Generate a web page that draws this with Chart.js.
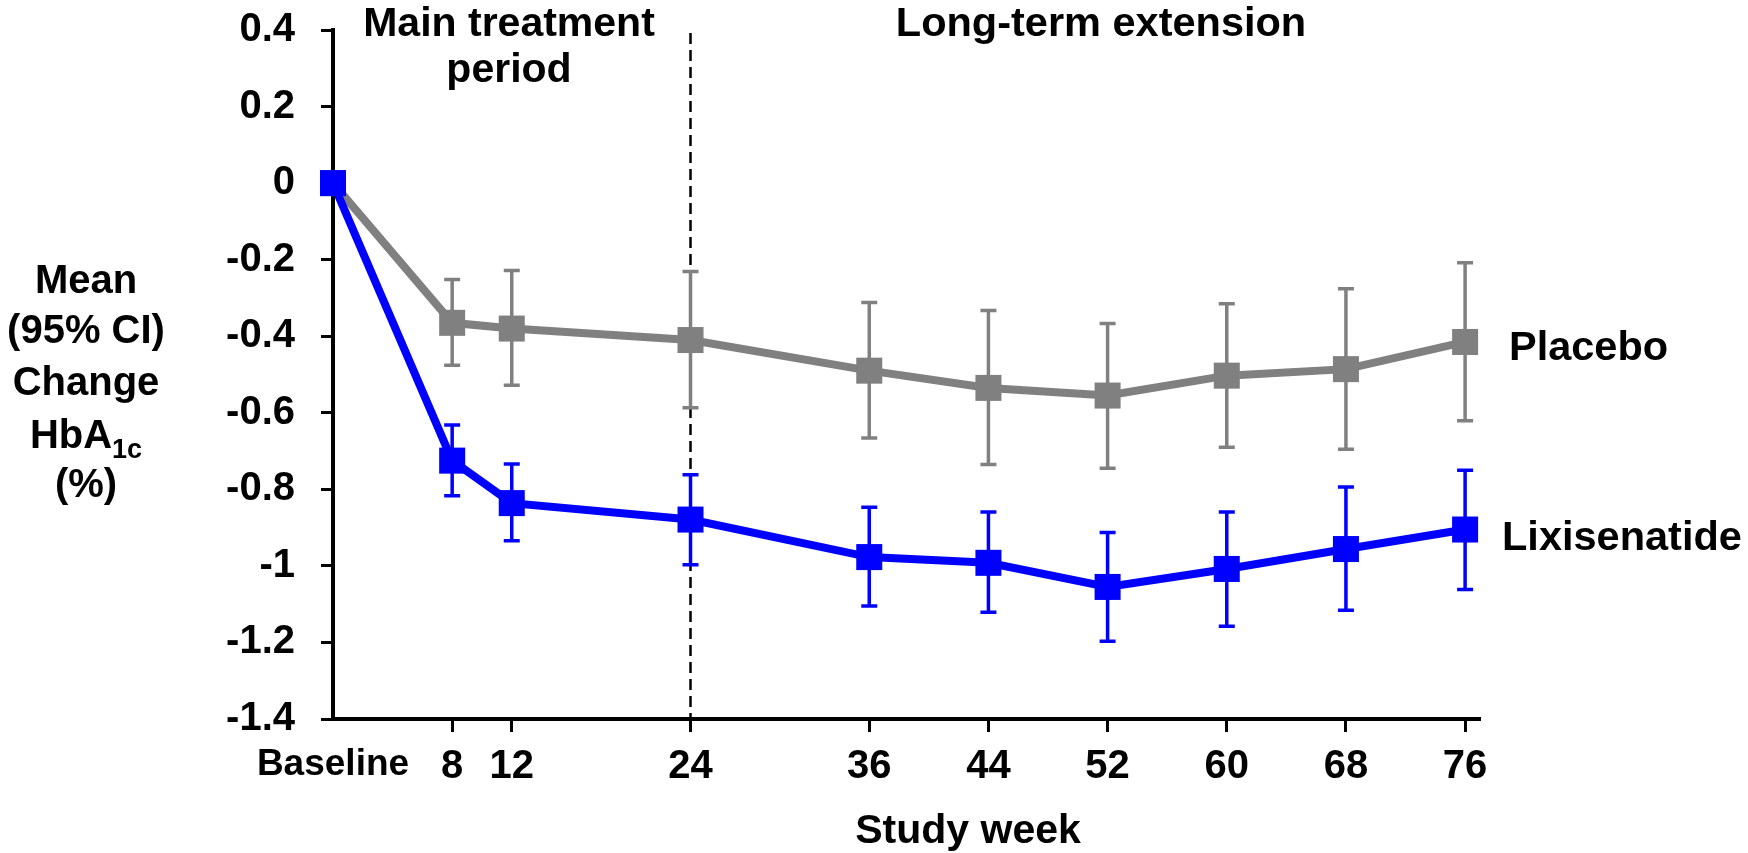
<!DOCTYPE html>
<html>
<head>
<meta charset="utf-8">
<script src="https://cdn.jsdelivr.net/npm/chart.js@4.4.1/dist/chart.umd.min.js"></script>
<style>
  html, body { margin: 0; padding: 0; background: #fff; }
</style>
</head>
<body>
<canvas id="chart" width="1748" height="853"></canvas>
<script>
// study weeks and their tick labels
const weeks = [0, 8, 12, 24, 36, 44, 52, 60, 68, 76];
const weekLabels = ['Baseline', '8', '12', '24', '36', '44', '52', '60', '68', '76'];
const yTicks = [0.4, 0.2, 0, -0.2, -0.4, -0.6, -0.8, -1, -1.2, -1.4];

// placebo: mean change and 95% CI
const placeboMean = [0, -0.365, -0.38, -0.41, -0.49, -0.535, -0.555, -0.503, -0.486, -0.415];
const placeboLow = [0, -0.476, -0.528, -0.587, -0.666, -0.735, -0.745, -0.69, -0.695, -0.621];
const placeboHigh = [0, -0.252, -0.228, -0.231, -0.312, -0.333, -0.367, -0.315, -0.276, -0.208];

// lixisenatide: mean change and 95% CI
const lixiMean = [0, -0.725, -0.836, -0.879, -0.977, -0.992, -1.055, -1.008, -0.956, -0.905];
const lixiLow = [0, -0.817, -0.934, -0.997, -1.105, -1.121, -1.197, -1.158, -1.116, -1.062];
const lixiHigh = [0, -0.632, -0.734, -0.762, -0.847, -0.859, -0.913, -0.859, -0.794, -0.75];

const FONT = '"Liberation Sans", Arial, sans-serif';
const GREY = '#808080';
const BLUE = '#0000ff';

function toPoints(vals) {
    return weeks.map((w, i) => ({ x: w, y: vals[i] }));
}

function drawText(ctx, text, x, y, size, align) {
    ctx.save();
    ctx.font = 'bold ' + size + 'px ' + FONT;
    ctx.textAlign = align;
    ctx.textBaseline = 'alphabetic';
    ctx.fillStyle = '#000';
    ctx.fillText(text, x, y);
    ctx.restore();
}

function textWidth(ctx, text, size) {
    ctx.save();
    ctx.font = 'bold ' + size + 'px ' + FONT;
    const w = ctx.measureText(text).width;
    ctx.restore();
    return w;
}

// dashed period divider + error bars, under the lines
const extras = {
    id: 'extras',
    beforeDatasetsDraw(chart) {
        const ctx = chart.ctx;
        const xs = chart.scales.x;
        const ys = chart.scales.y;

        ctx.save();
        ctx.strokeStyle = '#000';
        ctx.lineWidth = 2.5;
        ctx.setLineDash([11, 6]);
        const dx = xs.getPixelForValue(24);
        ctx.beginPath();
        ctx.moveTo(dx, ys.getPixelForValue(0.4) + 3);
        ctx.lineTo(dx, ys.getPixelForValue(-1.4));
        ctx.stroke();
        ctx.restore();

        const bars = [
            { low: placeboLow, high: placeboHigh, color: GREY },
            { low: lixiLow, high: lixiHigh, color: BLUE }
        ];
        bars.forEach(b => {
            ctx.save();
            ctx.strokeStyle = b.color;
            ctx.lineWidth = 3.5;
            weeks.forEach((w, i) => {
                if (b.low[i] === b.high[i]) return;
                const x = xs.getPixelForValue(w);
                const y1 = ys.getPixelForValue(b.low[i]);
                const y2 = ys.getPixelForValue(b.high[i]);
                ctx.beginPath();
                ctx.moveTo(x, y1);
                ctx.lineTo(x, y2);
                ctx.moveTo(x - 8, y1);
                ctx.lineTo(x + 8, y1);
                ctx.moveTo(x - 8, y2);
                ctx.lineTo(x + 8, y2);
                ctx.stroke();
            });
            ctx.restore();
        });
    },
    afterDraw(chart) {
        const ctx = chart.ctx;

        // y axis title with subscript
        const cx = 86;
        drawText(ctx, 'Mean', cx, 293, 40, 'center');
        drawText(ctx, '(95% CI)', cx, 343, 40, 'center');
        drawText(ctx, 'Change', cx, 395, 40, 'center');
        const wA = textWidth(ctx, 'HbA', 40);
        const wSub = textWidth(ctx, '1c', 27);
        const start = cx - (wA + wSub) / 2;
        drawText(ctx, 'HbA', start, 448, 40, 'left');
        drawText(ctx, '1c', start + wA, 458, 27, 'left');
        drawText(ctx, '(%)', cx, 497, 40, 'center');

        // period headings
        drawText(ctx, 'Main treatment', 509, 36, 41, 'center');
        drawText(ctx, 'period', 509, 82, 41, 'center');
        drawText(ctx, 'Long-term extension', 1101, 36, 41.5, 'center');

        // series labels
        drawText(ctx, 'Placebo', 1509, 360, 41.5, 'left');
        drawText(ctx, 'Lixisenatide', 1502, 550, 41.5, 'left');

        // x axis title
        drawText(ctx, 'Study week', 968, 843, 41, 'center');
    }
};

const chart = document.querySelector('#chart').getContext('2d');

new Chart(chart, {
    type: 'line',
    data: {
        datasets: [
            {
                label: 'Placebo',
                data: toPoints(placeboMean),
                borderColor: GREY,
                backgroundColor: GREY,
                borderWidth: 8,
                pointStyle: 'rect',
                pointRadius: 18.4,
                pointBorderWidth: 0,
                clip: false,
                order: 2
            },
            {
                label: 'Lixisenatide',
                data: toPoints(lixiMean),
                borderColor: BLUE,
                backgroundColor: BLUE,
                borderWidth: 8,
                pointStyle: 'rect',
                pointRadius: 18.4,
                pointBorderWidth: 0,
                clip: false,
                order: 1
            }
        ]
    },
    options: {
        responsive: false,
        animation: false,
        layout: { padding: { top: 30, right: 268, left: 0, bottom: 0 } },
        plugins: {
            legend: { display: false },
            tooltip: { enabled: false }
        },
        scales: {
            x: {
                type: 'linear',
                min: 0,
                max: 77,
                afterBuildTicks: s => { s.ticks = weeks.map(v => ({ value: v })); },
                afterFit: s => { s.height = 134; },
                border: { color: '#000', width: 4 },
                grid: {
                    drawOnChartArea: false,
                    tickLength: 13,
                    tickWidth: 3,
                    tickColor: c => (c.tick && c.tick.value === 0 ? 'rgba(0,0,0,0)' : '#000')
                },
                ticks: {
                    color: '#000',
                    padding: 11,
                    maxRotation: 0,
                    autoSkip: false,
                    font: c => ({
                        family: FONT,
                        size: c.tick && c.tick.value === 0 ? 37 : 40,
                        weight: 'bold'
                    }),
                    callback: v => weekLabels[weeks.indexOf(v)]
                }
            },
            y: {
                min: -1.4,
                max: 0.4,
                afterBuildTicks: s => { s.ticks = yTicks.map(v => ({ value: v })); },
                afterFit: s => {
                    s.width = 333;
                    s.paddingTop = 0;
                    s.paddingBottom = 0;
                },
                border: { color: '#000', width: 4 },
                grid: {
                    drawOnChartArea: false,
                    tickLength: 12,
                    tickWidth: 3,
                    tickColor: '#000'
                },
                ticks: {
                    color: '#000',
                    padding: 26,
                    font: { family: FONT, size: 40, weight: 'bold' },
                    callback: v => String(Math.round(v * 10) / 10)
                }
            }
        }
    },
    plugins: [extras]
});
</script>
</body>
</html>
